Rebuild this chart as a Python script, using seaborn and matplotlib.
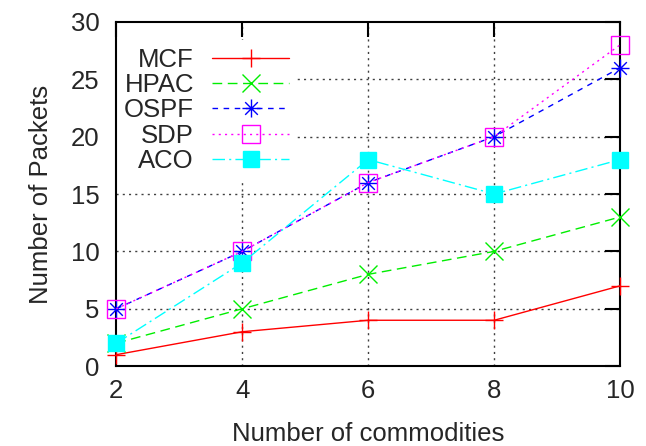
import matplotlib
matplotlib.use('Agg')
import matplotlib.pyplot as plt
from matplotlib.path import Path
import seaborn as sns

# values
commodities = [2, 4, 6, 8, 10]
mcf = [1, 3, 4, 4, 7]
hpac = [2, 5, 8, 10, 13]
ospf = [5, 10, 16, 20, 26]
sdp = [5, 10, 16, 20, 28]
aco = [2, 9, 18, 15, 18]
x_ticks = [2, 4, 6, 8, 10]
y_ticks = [0, 5, 10, 15, 20, 25, 30]

sns.set_style('white')
plt.rcParams['font.family'] = ['Liberation Sans', 'DejaVu Sans']
plt.rcParams['font.size'] = 18.5

# gnuplot style asterisk: "+" and "x" on top of each other
star = Path([(-1, 0), (1, 0), (0, -1), (0, 1),
             (-0.7, -0.7), (0.7, 0.7), (-0.7, 0.7), (0.7, -0.7)],
            [Path.MOVETO, Path.LINETO] * 4)

series = [
    ('MCF', mcf, '#ff0000', '-', '+', 'full'),
    ('HPAC', hpac, '#00ee00', (0, (7, 4)), 'x', 'full'),
    ('OSPF', ospf, '#0000ff', (0, (4, 4)), star, 'full'),
    ('SDP', sdp, '#ff00ff', (0, (1.5, 3)), 's', 'none'),
    ('ACO', aco, '#00ffff', (0, (9, 3, 1.5, 3)), 's', 'full'),
]

fig, ax = plt.subplots(figsize=(6.46, 4.46), dpi=100)
fig.subplots_adjust(left=0.180, right=0.960, bottom=0.179, top=0.951)

for name, vals, col, ls, mk, fill in series:
    ms = 12 if name == 'ACO' else 13
    sns.lineplot(x=commodities, y=vals, ax=ax, color=col, linestyle=ls,
                 marker=mk, markersize=ms, markeredgewidth=1.0,
                 fillstyle=fill, markeredgecolor=col, lw=1.0,
                 label=name, clip_on=False, zorder=3)

# dotted grid, drawn by hand so the key can sit on top of it
for yv in y_ticks[1:-1]:
    ax.axhline(yv, color='0.25', lw=1.0, ls=(0, (1.5, 3)), zorder=1)
for xv in x_ticks[1:-1]:
    ax.axvline(xv, color='0.25', lw=1.0, ls=(0, (1.5, 3)), zorder=1)

ax.set_xlim(2, 10)
ax.set_ylim(0, 30)
ax.set_xticks(x_ticks)
ax.set_yticks(y_ticks)
ax.set_axisbelow(False)
ax.tick_params(direction='in', length=11, width=1.5, top=True, right=True,
               labelsize=18.5, color='black')
ax.tick_params(axis='y', pad=12)
ax.tick_params(axis='x', pad=9)
for sp in ax.spines.values():
    sp.set_linewidth(1.5)
    sp.set_color('black')

ax.set_xlabel('Number of commodities', fontsize=18.5, labelpad=14)
ax.set_ylabel('Number of Packets', fontsize=18.5, labelpad=13)

leg = ax.legend(loc='upper left', bbox_to_anchor=(0.0, 0.947), borderaxespad=0,
                markerfirst=False, handlelength=3.0, handletextpad=0.7,
                labelspacing=0.05, borderpad=0.3, frameon=True, fancybox=False,
                facecolor='white', edgecolor='none', framealpha=1.0,
                fontsize=18.5)
leg.set_zorder(1.5)

fig.savefig('out.png', dpi=100)
